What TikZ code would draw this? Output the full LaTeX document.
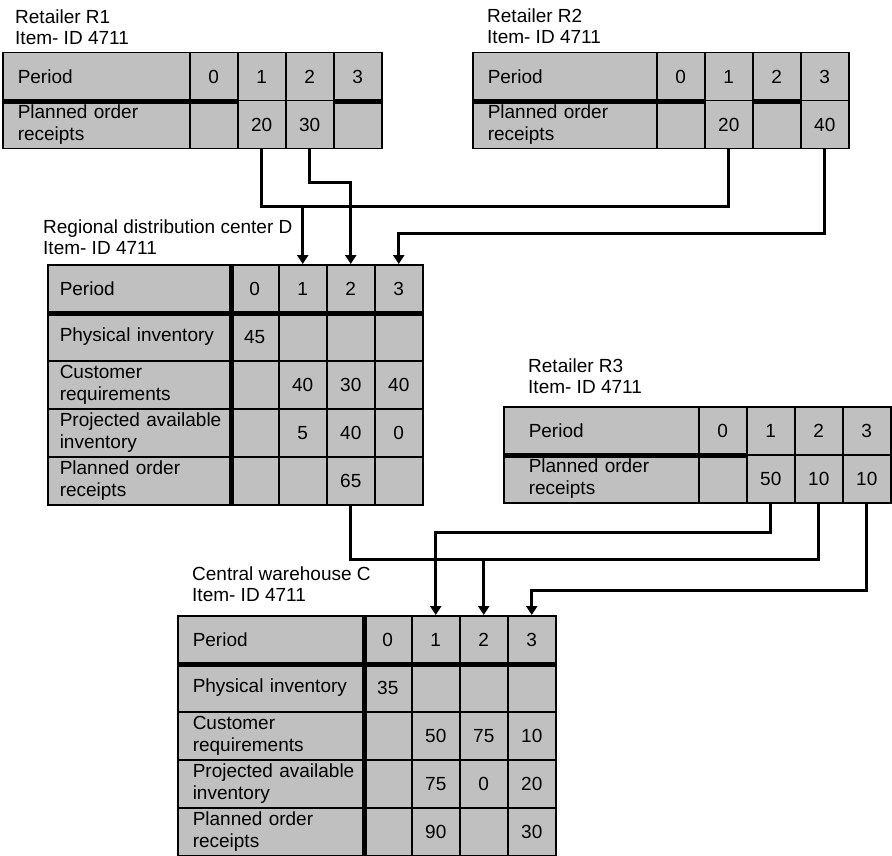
\documentclass[tikz,border=0pt]{standalone}
\usepackage{fontspec}
\setmainfont{Liberation Sans}
\usetikzlibrary{arrows.meta}

\definecolor{cellgray}{RGB}{192,192,192}
\newcommand{\cellfont}{\fontsize{19}{21.5}\selectfont}

\tikzset{
  cell/.style={draw, fill=cellgray, line width=1.5pt, minimum width=48pt, minimum height=48pt,
    inner sep=0pt, anchor=north west, font=\cellfont},
  rowlabel/.style={cell, align=left},
  caption/.style={anchor=south west, inner sep=0pt, align=left, font=\cellfont},
  thickrule/.style={line width=4.5pt},
  link/.style={line width=3pt},
  flow/.style={link, -{Triangle[width=11pt,length=9pt]}}
}

\begin{document}
\begin{tikzpicture}[x=1pt, y=-1pt]
  \useasboundingbox (0,0) rectangle (892,856);

  % Retailer R1
  \node[caption] (r1-cap) at (15,45) {Retailer R1\\Item- ID 4711};
  \begin{scope}[rowlabel/.append style={minimum width=187pt, text width=157pt, inner xsep=15pt}]
    \node[rowlabel] (r1-h) at (2,52) {Period};
    \foreach \c in {0,...,3}
      \node[cell] (r1-h\c) at (189+48*\c,52) {\c};
    \node[rowlabel] (r1-o) at (2,100) {Planned order\\receipts};
    \foreach \c/\v in {0/{},1/20,2/30,3/{}}
      \node[cell] (r1-o\c) at (189+48*\c,100) {\v};
    \draw[thickrule] (r1-h.south west) -- (r1-h0.south east);
    \draw[thickrule] (r1-h3.south west) -- (r1-h3.south east);
  \end{scope}

  % Retailer R2
  \node[caption] (r2-cap) at (487,44) {Retailer R2\\Item- ID 4711};
  \begin{scope}[rowlabel/.append style={minimum width=184pt, text width=154pt, inner xsep=15pt}]
    \node[rowlabel] (r2-h) at (472,52) {Period};
    \foreach \c in {0,...,3}
      \node[cell] (r2-h\c) at (656+48*\c,52) {\c};
    \node[rowlabel] (r2-o) at (472,100) {Planned order\\receipts};
    \foreach \c/\v in {0/{},1/20,2/{},3/40}
      \node[cell] (r2-o\c) at (656+48*\c,100) {\v};
    \draw[thickrule] (r2-h.south west) -- (r2-h0.south east);
    \draw[thickrule] (r2-h2.south west) -- (r2-h2.south east);
  \end{scope}

  % Regional distribution center D
  \node[caption] (d-cap) at (43,255) {Regional distribution center D\\Item- ID 4711};
  \begin{scope}[rowlabel/.append style={minimum width=183pt, text width=159pt, inner xsep=12pt}]
    \node[rowlabel] (d-h) at (47,264) {Period};
    \foreach \c in {0,...,3}
      \node[cell] (d-h\c) at (230+48*\c,264) {\c};
    \node[rowlabel] (d-p) at (47,312) {Physical inventory};
    \foreach \c/\v in {0/45,1/{},2/{},3/{}}
      \node[cell] (d-p\c) at (230+48*\c,312) {\v};
    \node[rowlabel] (d-r) at (47,360) {Customer\\requirements};
    \foreach \c/\v in {0/{},1/40,2/30,3/40}
      \node[cell] (d-r\c) at (230+48*\c,360) {\v};
    \node[rowlabel] (d-a) at (47,408) {\mbox{Projected available}\\inventory};
    \foreach \c/\v in {0/{},1/5,2/40,3/0}
      \node[cell] (d-a\c) at (230+48*\c,408) {\v};
    \node[rowlabel] (d-o) at (47,456) {Planned order\\receipts};
    \foreach \c/\v in {0/{},1/{},2/65,3/{}}
      \node[cell] (d-o\c) at (230+48*\c,456) {\v};
    \draw[thickrule] (d-h.south west) -- (d-h3.south east);
    \draw[thickrule] (d-h.north east) -- (d-o.south east);
  \end{scope}

  % Retailer R3
  \node[caption] (r3-cap) at (528,394) {Retailer R3\\Item- ID 4711};
  \begin{scope}[rowlabel/.append style={minimum width=195pt, text width=145pt, inner xsep=25pt}]
    \node[rowlabel] (r3-h) at (503,406) {Period};
    \foreach \c in {0,...,3}
      \node[cell] (r3-h\c) at (698+48*\c,406) {\c};
    \node[rowlabel] (r3-o) at (503,454) {Planned order\\receipts};
    \foreach \c/\v in {0/{},1/50,2/10,3/10}
      \node[cell] (r3-o\c) at (698+48*\c,454) {\v};
    \draw[thickrule] (r3-h.south west) -- (r3-h0.south east);
  \end{scope}

  % Central warehouse C
  \node[caption] (c-cap) at (192,602) {Central warehouse C\\Item- ID 4711};
  \begin{scope}[rowlabel/.append style={minimum width=186pt, text width=156pt, inner xsep=15pt}]
    \node[rowlabel] (c-h) at (177,615) {Period};
    \foreach \c in {0,...,3}
      \node[cell] (c-h\c) at (363+48*\c,615) {\c};
    \node[rowlabel] (c-p) at (177,663) {Physical inventory};
    \foreach \c/\v in {0/35,1/{},2/{},3/{}}
      \node[cell] (c-p\c) at (363+48*\c,663) {\v};
    \node[rowlabel] (c-r) at (177,711) {Customer\\requirements};
    \foreach \c/\v in {0/{},1/50,2/75,3/10}
      \node[cell] (c-r\c) at (363+48*\c,711) {\v};
    \node[rowlabel] (c-a) at (177,759) {\mbox{Projected available}\\inventory};
    \foreach \c/\v in {0/{},1/75,2/0,3/20}
      \node[cell] (c-a\c) at (363+48*\c,759) {\v};
    \node[rowlabel] (c-o) at (177,807) {Planned order\\receipts};
    \foreach \c/\v in {0/{},1/90,2/{},3/30}
      \node[cell] (c-o\c) at (363+48*\c,807) {\v};
    \draw[thickrule] (c-h.south west) -- (c-h3.south east);
    \draw[thickrule] (c-h.north east) -- (c-o.south east);
  \end{scope}

  % Bus heights
  \coordinate (busB) at (0,183);
  \coordinate (busA) at (0,206);
  \coordinate (busC) at (0,233);
  \coordinate (busD) at (0,532);
  \coordinate (busE) at (0,559);
  \coordinate (busF) at (0,590);

  % Retailers R1, R2 -> D
  \draw[link] (r1-o1.south) |- (busA -| r2-o1) -- (r2-o1.south);
  \draw[flow] (busA -| d-h1) -- (d-h1.north);
  \draw[flow] (r1-o2.south) |- (busB -| d-h2) -- (d-h2.north);
  \draw[flow] (r2-o3.south) |- (busC -| d-h3) -- (d-h3.north);

  % D, R3 -> C
  \draw[flow] (r3-o1.south) |- (busD -| c-h1) -- (c-h1.north);
  \draw[link] (d-o2.south) |- (busE -| r3-o2) -- (r3-o2.south);
  \draw[flow] (busE -| c-h2) -- (c-h2.north);
  \draw[flow] (r3-o3.south) |- (busF -| c-h3) -- (c-h3.north);
\end{tikzpicture}
\end{document}
